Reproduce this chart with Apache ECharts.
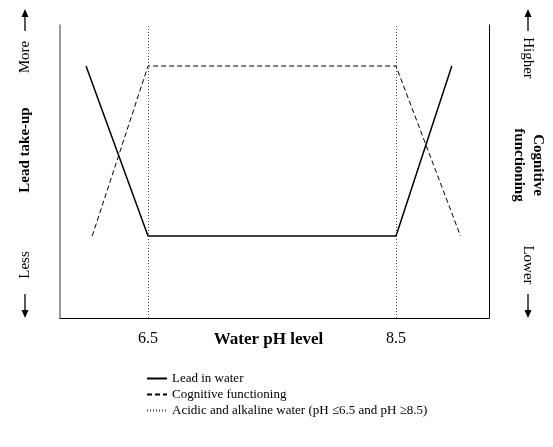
<!DOCTYPE html>
<html>
<head>
<meta charset="utf-8">
<script src="https://cdn.jsdelivr.net/npm/echarts@6/dist/echarts.min.js"></script>
<style>
  html, body { margin: 0; padding: 0; background: #fff; }
  #main { width: 553px; height: 447px; }
</style>
</head>
<body>
<div id="main"></div>
<script>
// pH positions of the line breakpoints
const phLead = [6.0, 6.5, 8.5, 8.95];
const leadUptake = [86, 28, 28, 86];
const phCognitive = [6.05, 6.5, 8.5, 9.02];
const cognitive = [28, 86, 86, 28];
// acidic / alkaline thresholds
const thresholds = [6.5, 8.5];
const xTicks = [6.5, 8.5];

const seriesNames = ['Lead in water', 'Cognitive functioning', 'Acidic and alkaline water (pH \u22646.5 and pH \u22658.5)'];

const font = '"Liberation Serif", "Times New Roman", serif';

const chart = echarts.init(document.getElementById('main'));

function arrow(x, y1, y2) {
  // vertical arrow, tip at y2
  const dir = y2 < y1 ? -1 : 1;
  return {
    type: 'group',
    children: [
      { type: 'line', shape: { x1: x, y1: y1, x2: x, y2: y2 - dir * 6 }, style: { stroke: '#000', lineWidth: 1.3 } },
      { type: 'polygon', shape: { points: [[x, y2], [x - 3.5, y2 - dir * 8], [x + 3.5, y2 - dir * 8]] }, style: { fill: '#000' } }
    ]
  };
}

function vtext(x, y, text, rot, bold) {
  return {
    type: 'text', x: x, y: y, rotation: rot,
    style: {
      text: text, align: 'center', verticalAlign: 'middle',
      font: (bold ? 'bold ' : '') + '15px ' + font, fill: '#000'
    }
  };
}

const option = {
  animation: false,
  grid: { left: 60, right: 64, top: 25, bottom: 129 },
  legend: {
    orient: 'vertical',
    left: 141,
    top: 367,
    itemWidth: 20,
    itemHeight: 10,
    itemGap: 3,
    data: seriesNames,
    itemStyle: { opacity: 0 },
    textStyle: { fontFamily: font, fontSize: 13, color: '#000' }
  },
  xAxis: {
    type: 'value',
    min: 5.79,
    max: 9.25,
    name: 'Water pH level',
    nameLocation: 'middle',
    nameGap: 13,
    nameMoveOverlap: false,
    nameTextStyle: {
      fontFamily: font, fontSize: 17, fontWeight: 'bold', color: '#000',
      verticalAlign: 'top', padding: [0, 12, 0, 0]
    },
    axisLine: { show: true, lineStyle: { color: '#000', width: 1 } },
    axisTick: { show: false },
    splitLine: { show: false },
    axisLabel: {
      customValues: xTicks,
      margin: 13,
      fontFamily: font, fontSize: 16, color: '#000',
      formatter: v => v.toFixed(1)
    }
  },
  yAxis: [
    {
      type: 'value', min: 0, max: 100, position: 'left',
      axisLine: { show: true, lineStyle: { color: '#777', width: 1.5 } },
      axisTick: { show: false }, axisLabel: { show: false }, splitLine: { show: false }
    },
    {
      type: 'value', min: 0, max: 100, position: 'right',
      axisLine: { show: true, lineStyle: { color: '#000', width: 1 } },
      axisTick: { show: false }, axisLabel: { show: false }, splitLine: { show: false }
    }
  ],
  series: [
    {
      name: seriesNames[0], type: 'line', symbol: 'none',
      data: phLead.map((x, i) => [x, leadUptake[i]]),
      lineStyle: { color: '#000', width: 1.5 },
      itemStyle: { color: '#000' }
    },
    {
      name: seriesNames[1], type: 'line', symbol: 'none',
      data: phCognitive.map((x, i) => [x, cognitive[i]]),
      lineStyle: { color: '#000', width: 1, type: [5, 3] },
      itemStyle: { color: '#000' }
    },
    {
      name: seriesNames[2], type: 'line', symbol: 'none',
      data: [],
      lineStyle: { color: '#444', width: 1, type: [1, 2] },
      itemStyle: { color: '#444' },
      markLine: {
        silent: true, symbol: 'none', label: { show: false },
        lineStyle: { color: '#444', width: 1, type: [1, 2] },
        data: thresholds.map(v => ({ xAxis: v }))
      }
    }
  ],
  graphic: [
    vtext(25, 57, 'More', Math.PI / 2, false),
    vtext(25, 150, 'Lead take-up', Math.PI / 2, true),
    vtext(25, 265, 'Less', Math.PI / 2, false),
    arrow(25, 31, 9),
    arrow(25, 294, 318),
    vtext(528, 58, 'Higher', -Math.PI / 2, false),
    vtext(538, 165, 'Cognitive', -Math.PI / 2, true),
    vtext(519, 165, 'functioning', -Math.PI / 2, true),
    vtext(528, 265, 'Lower', -Math.PI / 2, false),
    arrow(528, 31, 9),
    arrow(528, 294, 318)
  ]
};

chart.setOption(option);
</script>
</body>
</html>
